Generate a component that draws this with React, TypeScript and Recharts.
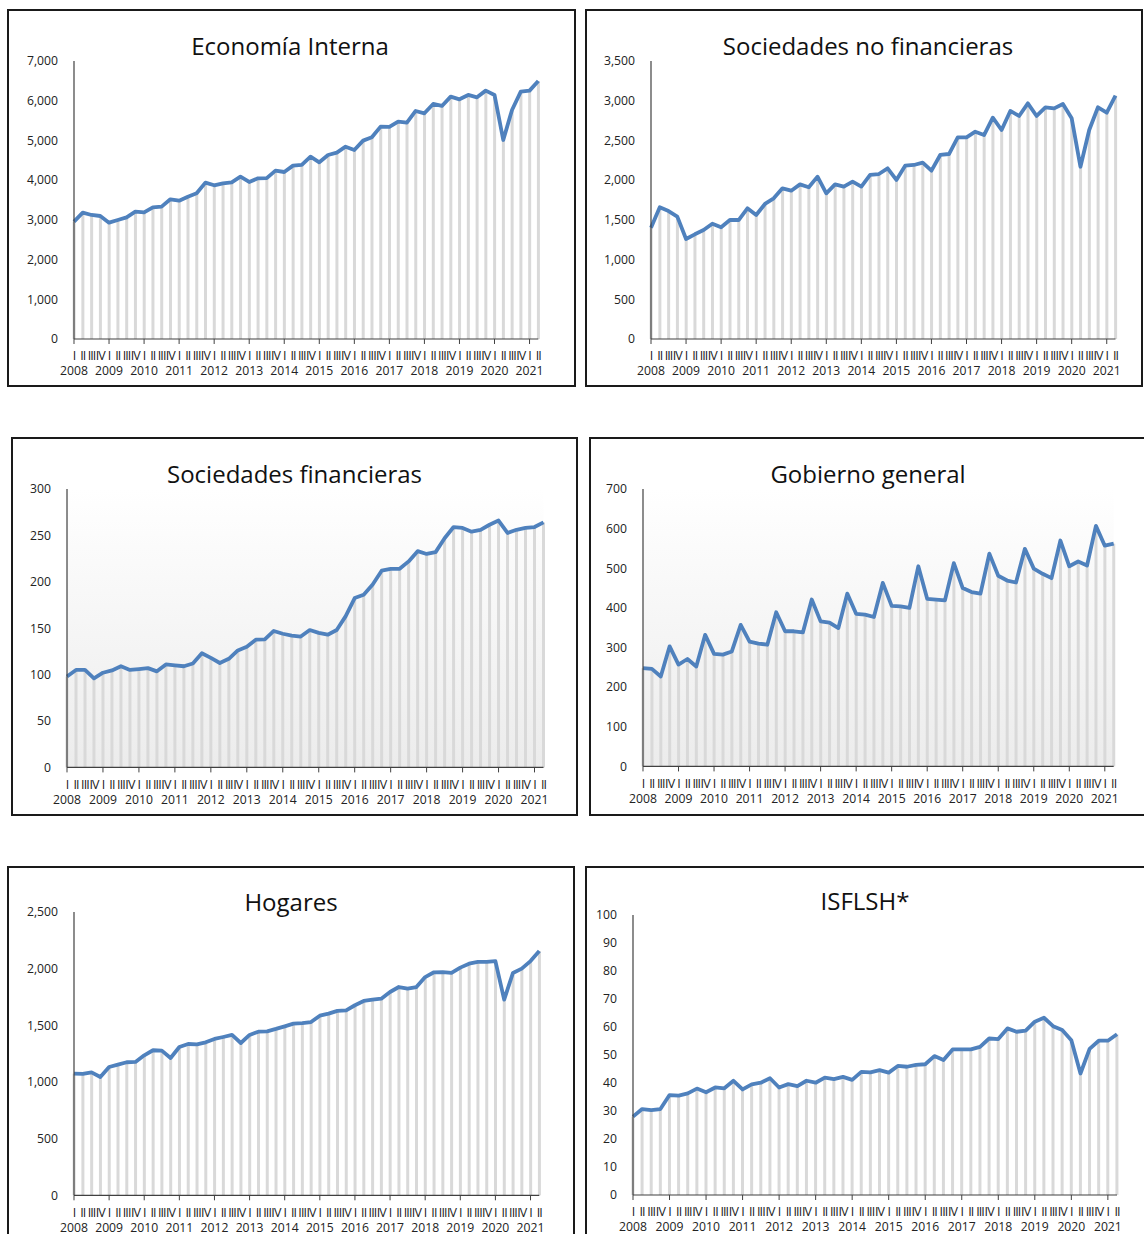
import { ComposedChart, Bar, Line, XAxis, YAxis, CartesianGrid } from 'recharts';

const years = ['2008', '2009', '2010', '2011', '2012', '2013', '2014', '2015', '2016', '2017', '2018', '2019', '2020', '2021'];
const quarters = ['I', 'II', 'III', 'IV'];

// 2008-I .. 2021-II
const economiaInterna = [
  2954, 3181, 3123, 3097, 2929, 2997, 3064, 3207, 3190, 3316,
  3333, 3517, 3483, 3584, 3668, 3937, 3870, 3920, 3945, 4088,
  3954, 4046, 4050, 4239, 4205, 4365, 4382, 4592, 4449, 4634,
  4693, 4843, 4760, 4995, 5079, 5347, 5340, 5473, 5448, 5742,
  5683, 5918, 5868, 6102, 6035, 6145, 6085, 6254, 6145, 5011,
  5767, 6229, 6254, 6497,
];

const sociedadesNoFinancieras = [
  1401, 1658, 1611, 1540, 1259, 1318, 1372, 1452, 1406, 1498,
  1498, 1645, 1561, 1700, 1771, 1897, 1867, 1947, 1910, 2044,
  1834, 1947, 1918, 1981, 1918, 2065, 2077, 2149, 2002, 2182,
  2191, 2220, 2119, 2317, 2329, 2539, 2539, 2610, 2568, 2786,
  2631, 2871, 2808, 2967, 2808, 2917, 2904, 2959, 2778, 2169,
  2631, 2917, 2849, 3063,
];

const sociedadesFinancieras = [
  98, 105, 105, 96, 102, 104.5, 109, 105, 106, 107,
  103.5, 111, 110, 109, 112, 123, 118, 112.5, 117, 126,
  130, 137.6, 138, 147, 144, 142, 141, 148, 145, 143,
  148, 163, 182.5, 186, 197, 212, 214, 214, 222, 233,
  230, 232, 247, 259, 258, 254, 256, 261.5, 266, 252.6,
  256, 258, 259, 264,
];

const gobiernoGeneral = [
  248, 246, 227, 303, 257, 271, 252, 332, 284, 282,
  290, 357, 315, 310, 307, 389, 341, 341, 338, 421,
  366, 363, 349, 436, 385, 383, 377, 463, 405, 404,
  400, 505, 423, 421, 419, 513, 450, 440, 436, 537,
  481, 469, 464, 549, 499, 486, 475, 570, 505, 517,
  507, 607, 557, 562,
];

const hogares = [
  1074, 1071, 1085, 1044, 1132, 1153, 1174, 1177, 1235, 1280,
  1277, 1212, 1309, 1335, 1332, 1350, 1380, 1397, 1415, 1344,
  1415, 1444, 1447, 1468, 1491, 1515, 1520, 1529, 1585, 1603,
  1627, 1632, 1677, 1715, 1727, 1735, 1794, 1838, 1824, 1838,
  1926, 1968, 1970, 1962, 2009, 2044, 2059, 2059, 2067, 1727,
  1962, 2000, 2067, 2156,
];

const isflsh = [
  28.0, 30.7, 30.3, 30.7, 35.7, 35.5, 36.3, 38.0, 36.7, 38.4,
  38.1, 40.8, 37.7, 39.5, 40.1, 41.7, 38.4, 39.6, 38.9, 40.8,
  40.1, 41.9, 41.4, 42.2, 41.1, 44.0, 43.8, 44.6, 43.7, 46.1,
  45.8, 46.5, 46.7, 49.6, 48.2, 52.0, 52.0, 52.0, 52.9, 55.9,
  55.7, 59.5, 58.3, 58.7, 61.9, 63.3, 60.3, 58.9, 55.3, 43.4,
  52.2, 55.1, 55.1, 57.4,
];

const ticks7000 = [0, 1000, 2000, 3000, 4000, 5000, 6000, 7000];
const ticks3500 = [0, 500, 1000, 1500, 2000, 2500, 3000, 3500];
const ticks300 = [0, 50, 100, 150, 200, 250, 300];
const ticks700 = [0, 100, 200, 300, 400, 500, 600, 700];
const ticks2500 = [0, 500, 1000, 1500, 2000, 2500];
const ticks100 = [0, 10, 20, 30, 40, 50, 60, 70, 80, 90, 100];

const FONT = '"Open Sans", "Noto Sans", sans-serif';
const LINE = '#4f81bd';
const DROP = '#d9d9d9';
const AXIS = '#404040';

const toRows = (values: number[]) => values.map((v, i) => ({ i, v }));

function QuarterTick(props: any) {
  const { x, y, payload } = props;
  const i = payload.value as number;
  const first = i % 4 === 0;
  return (
    <g>
      {first && <line x1={x} x2={x} y1={y} y2={y + 5} stroke={AXIS} strokeWidth={1} />}
      <text
        x={x}
        y={y + 18}
        textAnchor="middle"
        dominantBaseline="middle"
        fontSize={12.5}
        letterSpacing={-0.9}
        fill="#222"
        fontFamily={FONT}
      >
        {quarters[i % 4]}
      </text>
      {first && (
        <text x={x} y={y + 33} textAnchor="middle" dominantBaseline="middle" fontSize={12.2} fill="#222" fontFamily={FONT}>
          {years[Math.floor(i / 4)]}
        </text>
      )}
    </g>
  );
}

type Panel = {
  title: string;
  values: number[];
  ticks: number[];
  box: { l: number; t: number; w: number; h: number };
  plot: { l: number; t: number; b: number; r: number };
  titleX: number;
  titleBase: number;
  shaded?: boolean;
};

const panels: Panel[] = [
  { title: 'Economía Interna', values: economiaInterna, ticks: ticks7000,
    box: { l: 7, t: 9, w: 569, h: 378 }, plot: { l: 74, t: 61, b: 339, r: 538.3 }, titleX: 290, titleBase: 55 },
  { title: 'Sociedades no financieras', values: sociedadesNoFinancieras, ticks: ticks3500,
    box: { l: 585, t: 9, w: 558, h: 378 }, plot: { l: 651, t: 61, b: 339, r: 1115.5 }, titleX: 868, titleBase: 55 },
  { title: 'Sociedades financieras', values: sociedadesFinancieras, ticks: ticks300,
    box: { l: 11, t: 437, w: 567, h: 379 }, plot: { l: 67, t: 489.3, b: 767.7, r: 543.5 }, titleX: 294.5, titleBase: 483, shaded: true },
  { title: 'Gobierno general', values: gobiernoGeneral, ticks: ticks700,
    box: { l: 589, t: 437, w: 580, h: 379 }, plot: { l: 643.3, t: 489.3, b: 766.7, r: 1114 }, titleX: 868, titleBase: 483, shaded: true },
  { title: 'Hogares', values: hogares, ticks: ticks2500,
    box: { l: 7, t: 866, w: 568, h: 400 }, plot: { l: 74, t: 911.7, b: 1195, r: 539.3 }, titleX: 291, titleBase: 911 },
  { title: 'ISFLSH*', values: isflsh, ticks: ticks100,
    box: { l: 585, t: 866, w: 580, h: 400 }, plot: { l: 632.7, t: 915, b: 1195, r: 1116.7 }, titleX: 865, titleBase: 910 },
];

const xTicks = economiaInterna.map((_, i) => i);

function PanelChart({ p, idx }: { p: Panel; idx: number }) {
  const yW = 70;
  const top = 10;
  const xH = 45;
  const width = yW + (p.plot.r - p.plot.l) + 10;
  const height = top + (p.plot.b - p.plot.t) + xH;
  const max = p.ticks[p.ticks.length - 1];
  const gradId = `bg-${idx}`;
  return (
    <>
      <div
        style={{
          position: 'absolute', left: p.box.l, top: p.box.t, width: p.box.w, height: p.box.h,
          border: '2px solid #1a1a1a', boxSizing: 'border-box', background: '#fff',
        }}
      />
      <div
        style={{
          position: 'absolute', left: p.titleX - 250, width: 500, top: p.titleBase - 21,
          textAlign: 'center', fontFamily: FONT, fontSize: 24, lineHeight: '24px', color: '#111', whiteSpace: 'nowrap',
        }}
      >
        {p.title}
      </div>
      <div style={{ position: 'absolute', left: p.plot.l - yW, top: p.plot.t - top }}>
        <ComposedChart width={width} height={height} data={toRows(p.values)} margin={{ top, right: 10, bottom: 0, left: 0 }}>
          <defs>
            <linearGradient id={gradId} x1="0" y1="0" x2="0" y2="1">
              <stop offset="0%" stopColor="#ffffff" />
              <stop offset="100%" stopColor="#ececec" />
            </linearGradient>
          </defs>
          {p.shaded && (
            <CartesianGrid horizontal={false} vertical={false} fill={`url(#${gradId})`} fillOpacity={1} />
          )}
          <XAxis
            dataKey="i"
            type="number"
            domain={[0, p.values.length - 1]}
            ticks={xTicks}
            interval={0}
            height={xH}
            tickLine={false}
            tickSize={0}
            tickMargin={0}
            axisLine={{ stroke: AXIS, strokeWidth: 1.2 }}
            tick={<QuarterTick />}
          />
          <YAxis
            type="number"
            domain={[0, max]}
            ticks={p.ticks}
            interval={0}
            width={yW}
            tickLine={false}
            tickSize={0}
            tickMargin={16}
            axisLine={{ stroke: AXIS, strokeWidth: 1.2 }}
            tick={{ fontSize: 12.2, fill: '#222', fontFamily: FONT }}
            tickFormatter={(v: number) => v.toLocaleString('en-US')}
          />
          <Bar dataKey="v" barSize={3} fill={DROP} isAnimationActive={false} />
          <Line
            dataKey="v"
            type="linear"
            stroke={LINE}
            strokeWidth={3.8}
            dot={false}
            activeDot={false}
            strokeLinejoin="round"
            isAnimationActive={false}
          />
        </ComposedChart>
      </div>
    </>
  );
}

export default function App() {
  return (
    <div style={{ position: 'absolute', left: 0, top: 0, width: 1144, height: 1234, overflow: 'hidden', background: '#fff' }}>
      {panels.map((p, idx) => (
        <PanelChart key={p.title} p={p} idx={idx} />
      ))}
    </div>
  );
}
